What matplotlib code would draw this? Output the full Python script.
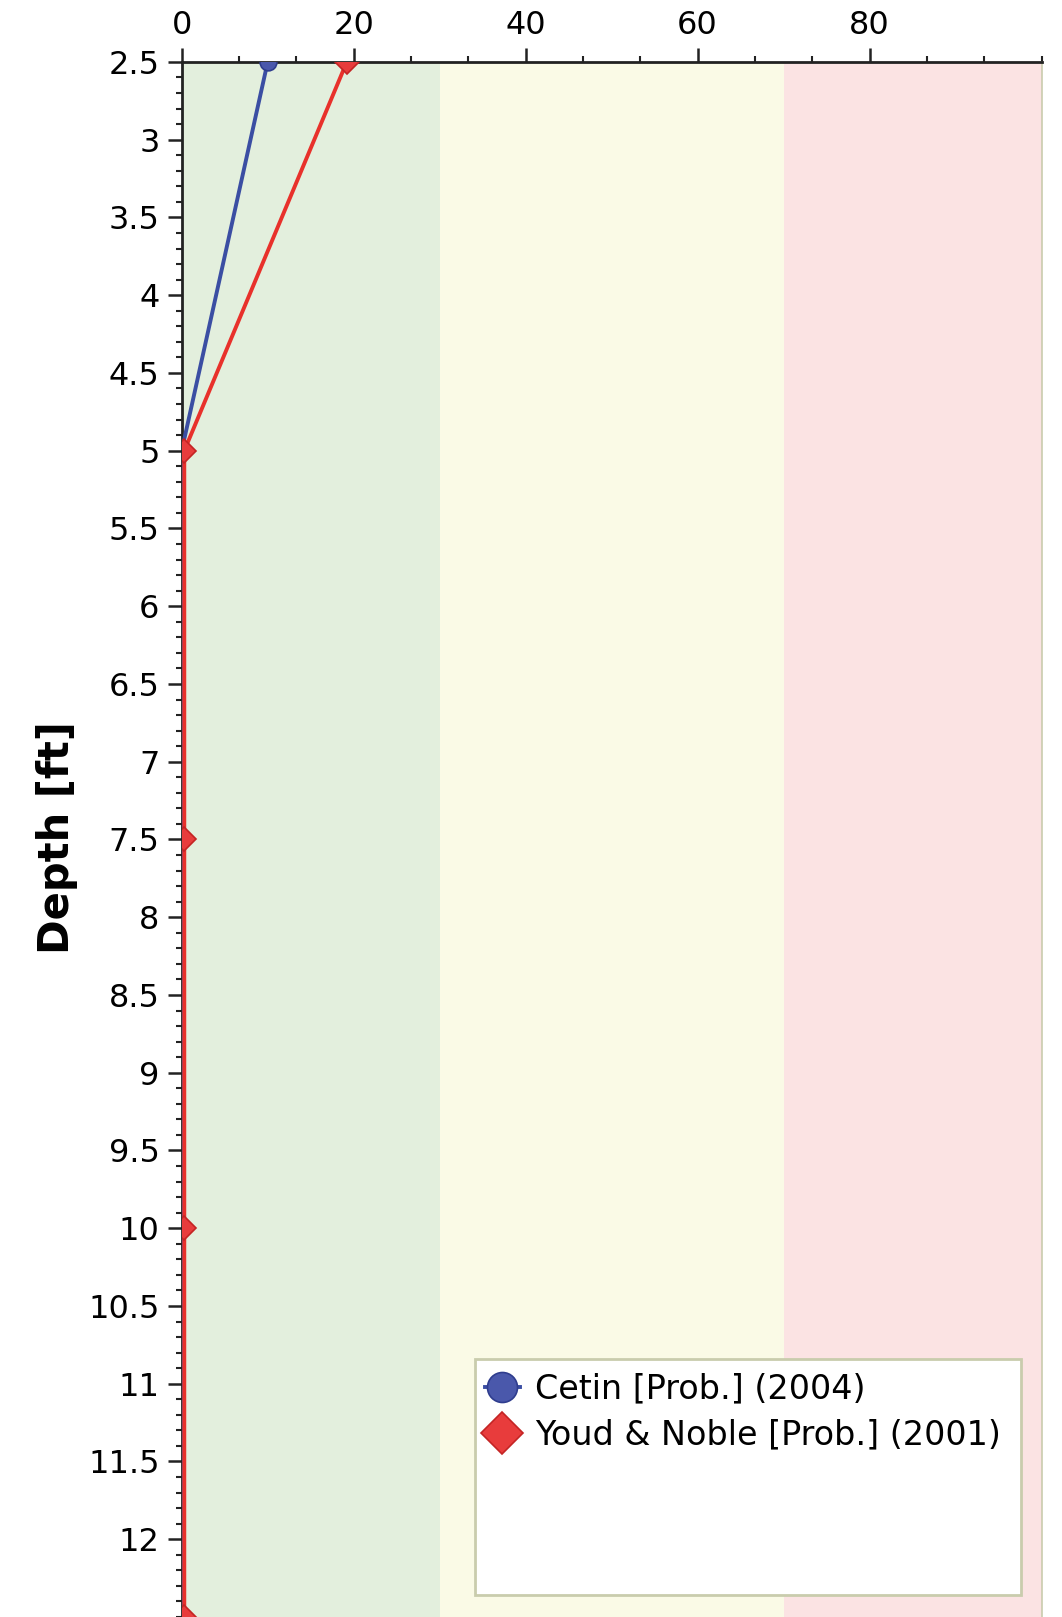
import matplotlib
matplotlib.use("Agg")
import matplotlib.pyplot as plt
from matplotlib.patches import Rectangle
from matplotlib.ticker import MultipleLocator

# Probability of liquefaction [%] versus depth
depth_ft = [2.5, 5.0, 7.5, 10.0, 12.5]
cetin_2004 = [10.0, 0.0, 0.0, 0.0, 0.0]
youd_noble_2001 = [19.2, 0.3, 0.3, 0.3, 0.3]

series_labels = ["Cetin [Prob.] (2004)", "Youd & Noble [Prob.] (2001)"]

# Hazard bands along the probability axis
band_edges = [0, 30, 70, 100]
band_colors = ["#e3efdd", "#fafae6", "#fbe3e3"]

x_ticks = [0, 20, 40, 60, 80]
y_ticks = [2.5, 3, 3.5, 4, 4.5, 5, 5.5, 6, 6.5, 7, 7.5, 8, 8.5, 9, 9.5,
           10, 10.5, 11, 11.5, 12]

plt.rcParams["font.family"] = ["DejaVu Sans"]

fig = plt.figure(figsize=(10.62, 16.17), dpi=100)
ax = fig.add_axes([0.1711, 0.0, 0.8096, 0.9617])

for lo, hi, c in zip(band_edges[:-1], band_edges[1:], band_colors):
    ax.axvspan(lo, hi, color=c, lw=0, zorder=0)

ax.plot(cetin_2004, depth_ft, color="#3b4ea3", lw=2.8, marker="o", ms=12,
        mfc="#4a58ab", mec="#2f3d8e", mew=1.2, zorder=3, label=series_labels[0])
ax.plot(youd_noble_2001, depth_ft, color="#e8312b", lw=2.8, marker="D", ms=12,
        mfc="#e83c3c", mec="#c42424", mew=1.2, zorder=4, label=series_labels[1])

ax.set_xlim(0, 100)
ax.set_ylim(12.5, 2.5)

ax.xaxis.tick_top()
ax.set_xticks(x_ticks)
ax.xaxis.set_minor_locator(MultipleLocator(20 / 3))
ax.set_yticks(y_ticks)
ax.set_yticklabels([f"{v:g}" for v in y_ticks])
ax.yaxis.set_minor_locator(MultipleLocator(0.1))

ax.tick_params(axis="both", which="major", direction="out", length=10,
               width=1.8, labelsize=23, color="#222222", pad=5)
ax.tick_params(axis="both", which="minor", direction="out", length=4,
               width=1.5, color="#222222")
ax.tick_params(axis="y", which="major", pad=6)

for side in ("top", "left"):
    ax.spines[side].set_linewidth(2)
    ax.spines[side].set_color("#222222")
ax.spines["bottom"].set_visible(False)
ax.spines["right"].set_color("#c9ccad")
ax.spines["right"].set_linewidth(1.2)

fig.text(57 / 1062, 0.482, "Depth [ft]", rotation=90, ha="center", va="center",
         fontsize=30, fontweight="bold")

# Legend panel
ax.add_patch(Rectangle((0.341, 0.01415), 0.635, 0.1518, transform=ax.transAxes,
                       facecolor="white", edgecolor="#c9ccad", lw=2, zorder=5))
leg = ax.legend(loc="upper left", bbox_to_anchor=(0.337, 0.166), frameon=False,
                fontsize=24, handlelength=1.05, handletextpad=0.45,
                markerscale=1.8, labelspacing=0.4, borderaxespad=0.0,
                borderpad=0.4)
leg.set_zorder(6)

fig.savefig("out.png", dpi=100)
